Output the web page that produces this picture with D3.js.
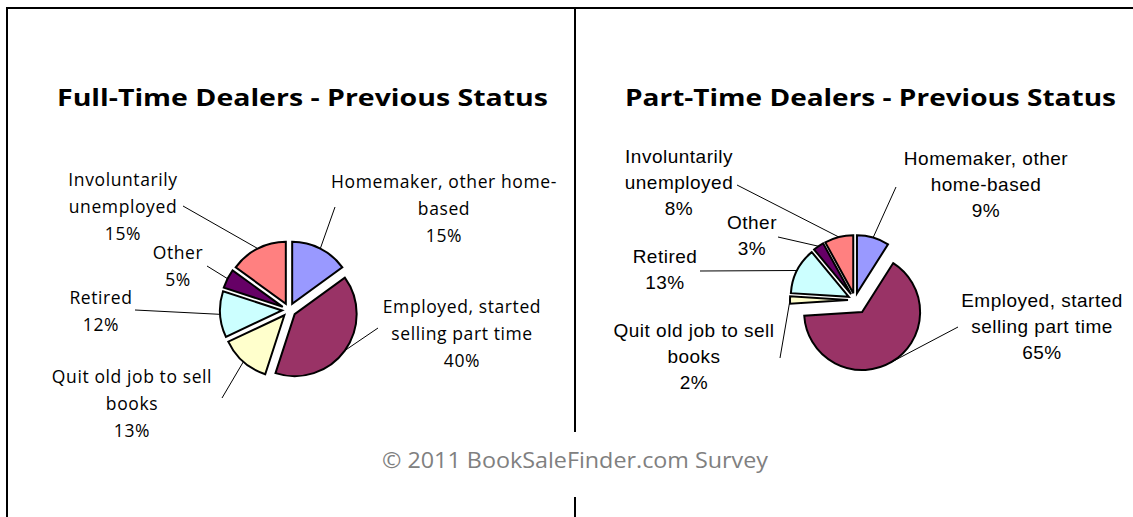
<!DOCTYPE html>
<html>
<head>
<meta charset="utf-8">
<script src="https://cdn.jsdelivr.net/npm/d3@7"></script>
<style>
    body { margin: 0; background: #fff; }
    svg { display: block; }
</style>
</head>
<body>
<div id="chart"></div>
<script>
// slice order: clockwise from 12 o'clock
const categories = ["Homemaker, other home-based", "Employed, started selling part time",
    "Quit old job to sell books", "Retired", "Other", "Involuntarily unemployed"];
const fullTimeValues = [15, 40, 13, 12, 5, 15];
const partTimeValues = [9, 65, 2, 13, 3, 8];
const sliceColors = ["#9999ff", "#993366", "#ffffcc", "#ccffff", "#660066", "#ff8080"];

// how each chart wraps the category names
const fullTimeLines = [["Homemaker, other home-", "based"], ["Employed, started", "selling part time"],
    ["Quit old job to sell", "books"], ["Retired"], ["Other"], ["Involuntarily", "unemployed"]];
const partTimeLines = [["Homemaker, other", "home-based"], ["Employed, started", "selling part time"],
    ["Quit old job to sell", "books"], ["Retired"], ["Other"], ["Involuntarily", "unemployed"]];

const W = 1133, H = 517;

const svg = d3.select('#chart')
    .append("svg")
    .attr("width", W)
    .attr("height", H);

// frame
const frame = svg.append("g").attr("stroke", "#000").attr("stroke-width", 2);
frame.append("line").attr("x1", 7).attr("x2", W).attr("y1", 8).attr("y2", 8);
frame.append("line").attr("x1", 7).attr("x2", 7).attr("y1", 7).attr("y2", H);
frame.append("line").attr("x1", 575).attr("x2", 575).attr("y1", 7).attr("y2", 432);
frame.append("line").attr("x1", 575).attr("x2", 575).attr("y1", 497).attr("y2", H);

// layout per chart: label centre x, first baseline, and where its leader starts
const fullTimeLayout = {
    title: "Full-Time Dealers - Previous Status", titleX: 57, titleLen: 491,
    cx: 289, cy: 310, r: 62, explode: [7, 7, 7, 7, 7, 7],
    font: "'Open Sans', sans-serif", size: 17.5, spacing: 0.6, lineH: 27,
    labels: [[444, 188], [462, 313], [132, 383], [101, 304], [178, 259], [123, 186]],
    leaders: [[335, 207], [378, 328], [222, 398], [135, 310], [207, 266], [183, 206]]
};
const partTimeLayout = {
    title: "Part-Time Dealers - Previous Status", titleX: 625, titleLen: 491,
    cx: 855, cy: 300, r: 58, explode: [7, 14, 7, 7, 7, 7],
    font: "'Liberation Sans', Arial, sans-serif", size: 19, spacing: 0.5, lineH: 26,
    labels: [[986, 165], [1042, 307], [694, 337], [665, 263], [752, 229], [679, 163]],
    leaders: [[896, 187], [958, 327], [780, 358], [700, 271], [778, 237], [737, 185]]
};

function drawPie(values, lines, L) {
    const g = svg.append("g");

    g.append("text")
        .attr("x", L.titleX)
        .attr("y", 106)
        .attr("textLength", L.titleLen)
        .attr("lengthAdjust", "spacingAndGlyphs")
        .style("font-family", "'Open Sans', sans-serif")
        .style("font-weight", "bold")
        .style("font-size", "24px")
        .text(L.title);

    const pie = d3.pie().sort(null).value((d) => d);
    const arcs = pie(values);
    const arc = d3.arc().innerRadius(0).outerRadius(L.r);
    const mid = (d) => (d.startAngle + d.endAngle) / 2;

    const slices = g.append("g")
        .attr("transform", `translate(${L.cx},${L.cy})`);

    slices.selectAll("path")
        .data(arcs)
        .join("path")
        .attr("d", arc)
        .attr("fill", (d, i) => sliceColors[i])
        .attr("stroke", "#000")
        .attr("stroke-width", 2)
        .attr("stroke-linejoin", "miter")
        .attr("transform", (d, i) => {
            const a = mid(d), e = L.explode[i];
            return `translate(${Math.sin(a) * e},${-Math.cos(a) * e})`;
        });

    // leader lines: from the label to the slice's outer edge
    g.selectAll("line.leader")
        .data(arcs)
        .join("line")
        .attr("class", "leader")
        .attr("stroke", "#000")
        .attr("stroke-width", 1)
        .attr("x1", (d, i) => L.leaders[i][0])
        .attr("y1", (d, i) => L.leaders[i][1])
        .attr("x2", (d, i) => L.cx + Math.sin(mid(d)) * (L.r + L.explode[i]))
        .attr("y2", (d, i) => L.cy - Math.cos(mid(d)) * (L.r + L.explode[i]));

    const labels = g.selectAll("text.label")
        .data(arcs)
        .join("text")
        .attr("class", "label")
        .attr("text-anchor", "middle")
        .style("font-family", L.font)
        .style("font-size", L.size + "px")
        .style("letter-spacing", L.spacing + "px")
        .style("fill", "#000");

    labels.each(function(d, i) {
        const rows = [...lines[i], `${values[i]}%`];
        d3.select(this).selectAll("tspan")
            .data(rows)
            .join("tspan")
            .attr("x", L.labels[i][0])
            .attr("y", (_r, k) => L.labels[i][1] + k * L.lineH)
            .text((r) => r);
    });
}

drawPie(fullTimeValues, fullTimeLines, fullTimeLayout);
drawPie(partTimeValues, partTimeLines, partTimeLayout);

svg.append("text")
    .attr("x", 382)
    .attr("y", 468)
    .attr("textLength", 386)
    .attr("lengthAdjust", "spacingAndGlyphs")
    .style("font-family", "'Open Sans', sans-serif")
    .style("font-size", "21px")
    .style("fill", "#808080")
    .text("© 2011 BookSaleFinder.com Survey");
</script>
</body>
</html>
